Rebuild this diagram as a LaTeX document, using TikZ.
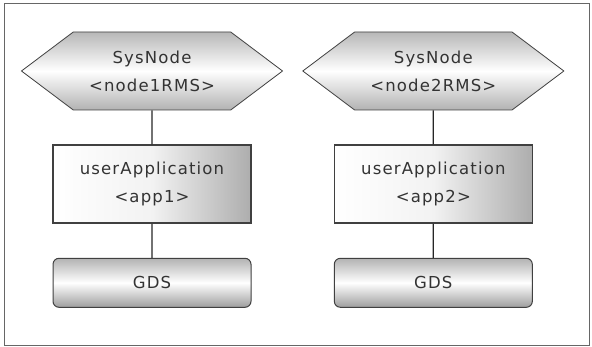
\documentclass[tikz,border=0pt]{standalone}
\usepackage{fontspec}
\setmainfont{DejaVu Sans}[LetterSpace=7]
\usetikzlibrary{positioning,shapes.symbols}

\begin{document}
\begin{tikzpicture}[x=1pt,y=1pt,line width=1pt,node distance=34pt,
                    font=\fontsize{16.5}{28}\selectfont,text=black!80]
  \tikzstyle{every node}=[draw=black!75,align=center,inner sep=0pt]
  \tikzstyle{sysnode}=[signal,signal to=west and east,signal pointer angle=74,
                       minimum width=261pt,minimum height=78pt,line width=0.8pt,
                       top color=black!28,bottom color=black!30,middle color=white]
  \tikzstyle{userapp}=[rectangle,line width=1.4pt,minimum width=198pt,minimum height=78pt,
                       left color=white,right color=black!32,middle color=black!5]
  \tikzstyle{gds}=[rectangle,rounded corners=6pt,minimum width=198pt,minimum height=49pt,
                   top color=black!30,bottom color=black!38,middle color=white]

  \useasboundingbox (0,0) rectangle (592,-347);
  \draw[black!60,line width=0.8pt] (4,-3) rectangle (589,-345);

  \node[sysnode]                  (sys1) at (152,-71) {SysNode\\<node1RMS>};
  \node[sysnode] [right=19pt of sys1] (sys2)        {SysNode\\<node2RMS>};
  \node[userapp] [below=of sys1]  (app1)            {userApplication\\<app1>};
  \node[userapp] [below=of sys2]  (app2)            {userApplication\\<app2>};
  \node[gds]     [below=of app1]  (gds1)            {GDS};
  \node[gds]     [below=of app2]  (gds2)            {GDS};

  \path[draw=black!85,line width=1.2pt] (sys1) -- (app1) -- (gds1)
                                        (sys2) -- (app2) -- (gds2);
\end{tikzpicture}
\end{document}
